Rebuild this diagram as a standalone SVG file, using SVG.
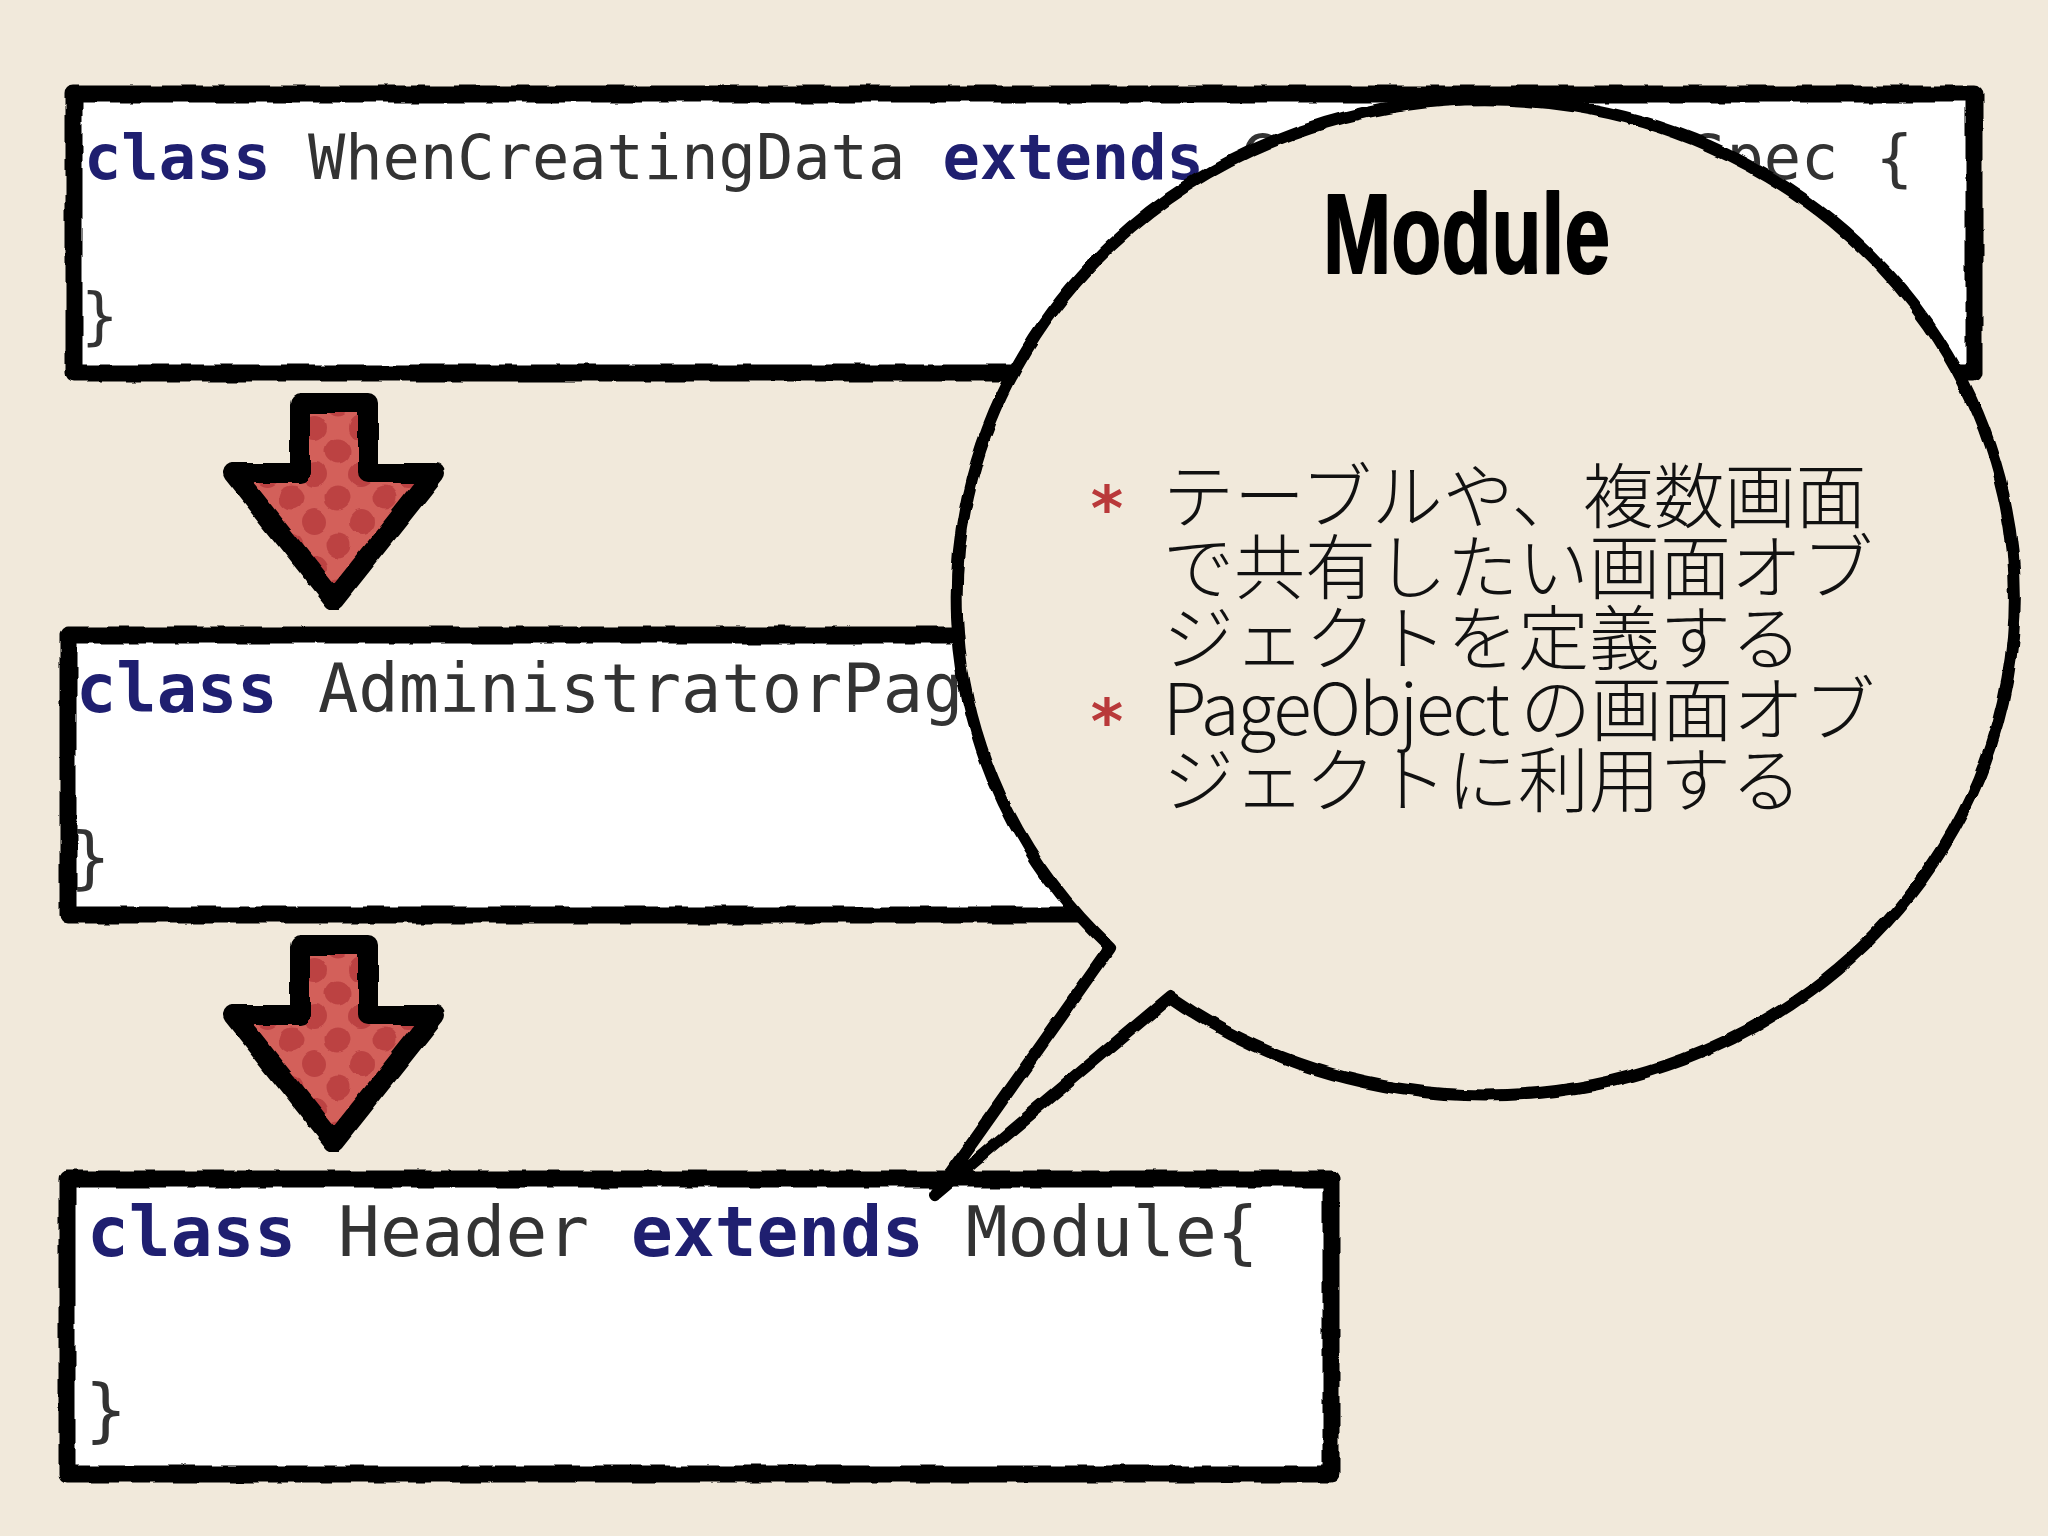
<svg xmlns="http://www.w3.org/2000/svg" width="2048" height="1536" viewBox="0 0 2048 1536">
<style>
.bg{fill:#f1e9db}
.paper{fill:#ffffff}
.frame{fill:none;stroke:#000;stroke-width:17;stroke-linejoin:round;stroke-linecap:round}
.code{font-family:"DejaVu Sans Mono","Liberation Mono",monospace;fill:#333333}
.kw{fill:#1f1f70;font-weight:bold}
.arrow{fill:url(#dots);stroke:#000;stroke-width:20;stroke-linejoin:round}
.bubble{fill:#f1e9db;stroke:#000;stroke-width:12;stroke-linejoin:round}
.title{font-family:"Liberation Sans",Arial,sans-serif;font-weight:bold;font-size:113px;fill:#000;stroke:#000;stroke-width:2;stroke-linejoin:round}
.jp{font-family:"Noto Sans CJK JP",sans-serif;font-size:71px;font-weight:300;fill:#111}
.bullet{font-family:"DejaVu Sans",sans-serif;font-weight:bold;font-size:62px;fill:#b9393a}
</style>
<defs>
<filter id="rough" x="-5%" y="-5%" width="110%" height="110%">
<feTurbulence type="fractalNoise" baseFrequency="0.035" numOctaves="2" seed="4" result="n"/>
<feDisplacementMap in="SourceGraphic" in2="n" scale="6" xChannelSelector="R" yChannelSelector="G"/>
</filter>
<pattern id="dots" patternUnits="userSpaceOnUse" x="338" y="498" width="47" height="47">
<rect width="47" height="47" fill="#d3605a"/>
<circle cx="0" cy="0" r="12.5" fill="#bc4243"/>
<circle cx="47" cy="0" r="12.5" fill="#bc4243"/>
<circle cx="0" cy="47" r="12.5" fill="#bc4243"/>
<circle cx="47" cy="47" r="12.5" fill="#bc4243"/>
<circle cx="23.5" cy="23.5" r="12.5" fill="#bc4243"/>
</pattern>
</defs>
<rect class="bg" x="0" y="0" width="2048" height="1536"/>

<g id="box-top">
<rect class="paper" x="74" y="94" width="1900" height="279"/>
<text class="code" x="84" y="179" font-size="62"><tspan class="kw">class</tspan> WhenCreatingData <tspan class="kw">extends</tspan> GebReportingSpec {</text>
<text class="code" x="81" y="337" font-size="62">}</text>
<rect class="frame" x="74" y="94" width="1900" height="279" filter="url(#rough)"/>
</g>

<g id="box-middle">
<rect class="paper" x="68" y="635" width="1232" height="280"/>
<text class="code" x="76" y="712" font-size="67"><tspan class="kw">class</tspan> AdministratorPag</text>
<text class="code" x="70" y="881" font-size="67">}</text>
<rect class="frame" x="68" y="635" width="1232" height="280" filter="url(#rough)"/>
</g>

<g id="box-bottom">
<rect class="paper" x="67" y="1179" width="1264" height="295"/>
<text class="code" x="87" y="1256" font-size="69.5"><tspan class="kw">class</tspan> Header <tspan class="kw">extends</tspan> Module{</text>
<text class="code" x="85" y="1434" font-size="69.5">}</text>
<rect class="frame" x="67" y="1179" width="1264" height="295" stroke-width="18" filter="url(#rough)"/>
</g>

<g id="connectors">
<g id="arrow-1" filter="url(#rough)">
<path class="arrow" d="M300 403 L368 403 L368 473 L435 473 L334 600 L233 473 L300 473 Z"/>
</g>
<g id="arrow-2" transform="translate(0,542)" filter="url(#rough)">
<path class="arrow" d="M300 403 L368 403 L368 473 L435 473 L334 600 L233 473 L300 473 Z"/>
</g>
</g>

<g id="callout">
<path class="bubble" filter="url(#rough)" d="M1110 948 L936 1194 L1170 997 A529 498 0 1 0 1110 948 Z"/>
<text class="title" x="1323" y="273" textLength="287" lengthAdjust="spacingAndGlyphs">Module</text>
<text class="bullet" x="1107" y="530" text-anchor="middle">*</text>
<text class="bullet" x="1107" y="743" text-anchor="middle">*</text>
<text class="jp"><tspan x="1163" y="522">テーブルや、複数画面</tspan><tspan x="1163" y="593">で共有したい画面オブ</tspan><tspan x="1163" y="664">ジェクトを定義する</tspan><tspan x="1163" y="735" letter-spacing="-2">PageObject</tspan><tspan x="1520" y="735">の画面オブ</tspan><tspan x="1163" y="806">ジェクトに利用する</tspan></text>
</g>
</svg>
